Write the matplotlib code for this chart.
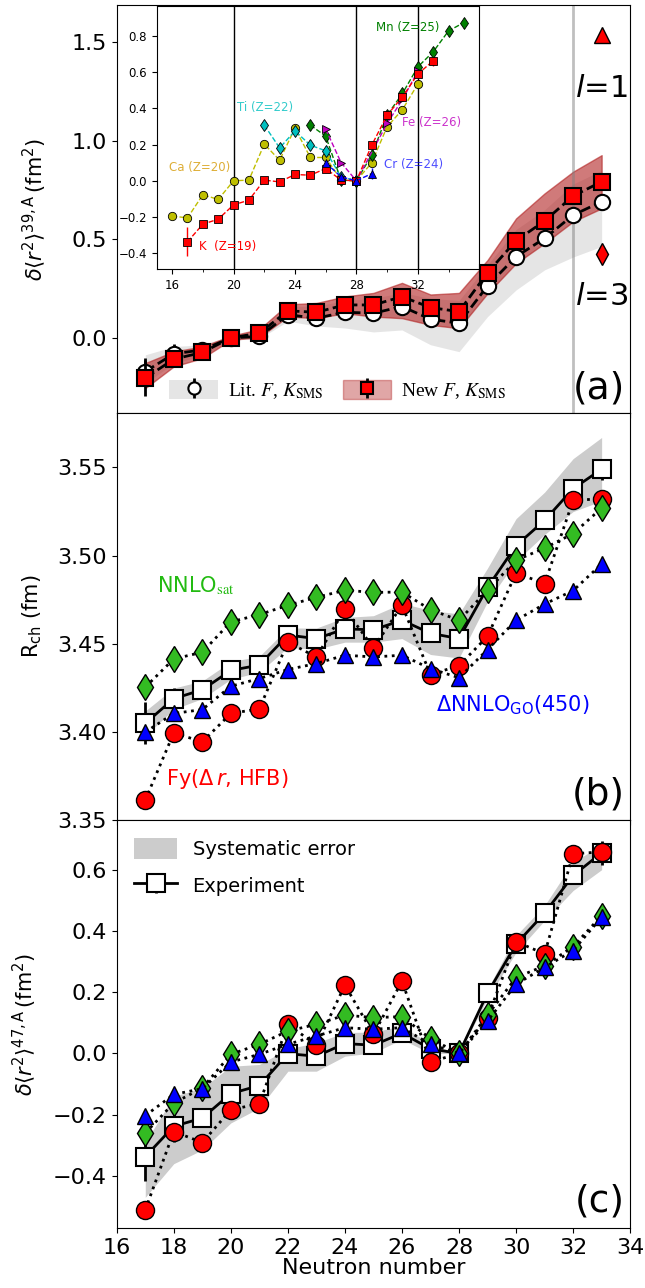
import numpy as np
import matplotlib.pyplot as plt
from matplotlib.patches import Patch
from matplotlib.font_manager import FontProperties

N = np.arange(17, 34)

# ---- panel (a): delta r^2 relative to 39K
lit_a = [-0.171, -0.081, -0.061, 0.0, 0.007, 0.117, 0.100, 0.130, 0.125, 0.159,
         0.095, 0.074, 0.264, 0.412, 0.505, 0.623, 0.691]
lit_a_err = [0.07, 0.05, 0.02, 0.0, 0.01, 0.01, 0.01, 0.01, 0.01, 0.01,
             0.01, 0.01, 0.01, 0.01, 0.01, 0.01, 0.01]
lit_a_lo = [-0.23, -0.13, -0.09, -0.01, -0.005, 0.085, 0.06, 0.05, 0.03, 0.04,
            -0.035, -0.07, 0.108, 0.243, 0.345, 0.41, 0.464]
lit_a_hi = [-0.086, -0.044, -0.035, 0.01, 0.03, 0.16, 0.16, 0.19, 0.2, 0.23,
            0.2, 0.19, 0.37, 0.55, 0.65, 0.78, 0.85]
new_a = [-0.204, -0.108, -0.074, 0.0, 0.024, 0.137, 0.130, 0.167, 0.167, 0.209,
         0.154, 0.133, 0.331, 0.493, 0.593, 0.720, 0.792]
new_a_err = [0.09, 0.04, 0.02, 0.0, 0.01, 0.01, 0.01, 0.01, 0.01, 0.01,
             0.01, 0.01, 0.01, 0.01, 0.01, 0.01, 0.01]
new_a_lo = [-0.255, -0.145, -0.103, -0.01, 0.003, 0.108, 0.10, 0.125, 0.108, 0.10,
            0.066, 0.049, 0.226, 0.378, 0.48, 0.59, 0.657]
new_a_hi = [-0.128, -0.069, -0.044, 0.01, 0.044, 0.17, 0.177, 0.21, 0.228, 0.279,
            0.22, 0.228, 0.395, 0.606, 0.733, 0.843, 0.927]
l1_val, l3_val = 1.536, 0.426

# ---- inset: other isotopic chains relative to N=28
K_N = np.arange(17, 34)
K_r2 = [-0.337, -0.24, -0.212, -0.133, -0.107, 0.004, -0.006, 0.035, 0.031, 0.068,
        0.004, 0.0, 0.197, 0.363, 0.464, 0.59, 0.664]
K_err = [0.08, 0.01, 0.01, 0.01, 0.01, 0.01, 0.01, 0.01, 0.01, 0.01,
         0.01, 0.0, 0.01, 0.01, 0.01, 0.01, 0.03]
Ca_N = np.arange(16, 33)
Ca_r2 = [-0.195, -0.205, -0.077, -0.103, 0.0, 0.004, 0.203, 0.114, 0.291, 0.129,
         0.129, 0.005, 0.0, 0.1, 0.299, 0.394, 0.535]
Ti_N = np.arange(22, 29)
Ti_r2 = [0.308, 0.182, 0.276, 0.197, 0.166, 0.022, 0.0]
Cr_N = np.arange(26, 30)
Cr_r2 = [0.1, 0.022, 0.0, 0.04]
Mn_N = np.arange(25, 36)
Mn_r2 = [0.308, 0.247, 0.004, 0.0, 0.142, 0.363, 0.483, 0.63, 0.713, 0.829, 0.875]
Fe_N = [26, 27, 28, 30, 31, 32]
Fe_r2 = [0.286, 0.101, 0.0, 0.317, 0.45, 0.606]

# ---- panel (b): charge radii
exp_b = [3.405, 3.419, 3.424, 3.435, 3.438, 3.455, 3.453, 3.4585, 3.458, 3.4634,
         3.456, 3.453, 3.482, 3.5057, 3.520, 3.538, 3.549]
exp_b_err = [0.012, 0.006, 0.002, 0.002, 0.002, 0.002, 0.002, 0.002, 0.002, 0.002,
             0.002, 0.002, 0.002, 0.002, 0.002, 0.002, 0.006]
sys_b_lo = [3.398, 3.413, 3.419, 3.430, 3.434, 3.448, 3.447, 3.451, 3.451, 3.453,
            3.444, 3.442, 3.474, 3.497, 3.512, 3.525, 3.531]
sys_b_hi = [3.412, 3.425, 3.429, 3.440, 3.443, 3.459, 3.459, 3.465, 3.466, 3.473,
            3.469, 3.467, 3.493, 3.521, 3.536, 3.555, 3.567]
fy_b = [3.3615, 3.3996, 3.3945, 3.4106, 3.4132, 3.4511, 3.4425, 3.4698, 3.4477, 3.4719,
        3.4326, 3.4377, 3.4543, 3.4902, 3.4842, 3.5313, 3.5323]
sat_b = [3.4255, 3.4415, 3.4453, 3.4625, 3.4666, 3.4719, 3.4764, 3.4804, 3.4792, 3.4794,
         3.4694, 3.4634, 3.4804, 3.4974, 3.5043, 3.5125, 3.527]
go_b = [3.400, 3.4106, 3.4128, 3.426, 3.4304, 3.4355, 3.4389, 3.4436, 3.4426, 3.4436,
        3.436, 3.4308, 3.4468, 3.4634, 3.4726, 3.4802, 3.4953]

# ---- panel (c): delta r^2 relative to 47K
exp_c = [-0.337, -0.238, -0.211, -0.131, -0.105, -0.001, -0.009, 0.032, 0.027, 0.066,
         0.015, 0.0, 0.197, 0.357, 0.458, 0.581, 0.655]
exp_c_err = [0.08, 0.05, 0.02, 0.01, 0.01, 0.01, 0.01, 0.01, 0.01, 0.01,
             0.01, 0.0, 0.01, 0.01, 0.01, 0.01, 0.04]
sys_c_lo = [-0.47, -0.36, -0.315, -0.227, -0.178, -0.058, -0.058, -0.009, 0.002, 0.046,
            0.0, 0.0, 0.18, 0.33, 0.434, 0.532, 0.60]
sys_c_hi = [-0.29, -0.14, -0.113, -0.042, -0.036, 0.015, 0.035, 0.068, 0.07, 0.09,
            0.03, 0.0, 0.21, 0.385, 0.483, 0.625, 0.68]
fy_c = [-0.511, -0.255, -0.291, -0.184, -0.164, 0.095, 0.027, 0.223, 0.062, 0.236,
        -0.028, 0.0, 0.117, 0.365, 0.325, 0.652, 0.658]
sat_c = [-0.26, -0.162, -0.113, -0.003, 0.03, 0.073, 0.095, 0.125, 0.117, 0.12,
         0.048, 0.0, 0.125, 0.248, 0.286, 0.349, 0.45]
go_c = [-0.203, -0.134, -0.115, -0.028, -0.003, 0.03, 0.057, 0.084, 0.079, 0.084,
        0.03, 0.0, 0.106, 0.226, 0.281, 0.336, 0.445]

fig, (ax1, ax2, ax3) = plt.subplots(3, 1, figsize=(6.45, 12.88), sharex=True)
fig.subplots_adjust(left=0.181, right=0.977, top=0.996, bottom=0.0466, hspace=0)

# ===================== (a)
ax1.fill_between(N, lit_a_lo, lit_a_hi, color='grey', alpha=0.2, lw=0)
ax1.fill_between(N, new_a_lo, new_a_hi, facecolor='firebrick', alpha=0.6,
                 edgecolor='firebrick', lw=1)
ax1.plot(N, lit_a, 'k--', lw=2, zorder=3)
ax1.plot(N, new_a, 'k--', lw=2, zorder=3)
eb_lit = ax1.errorbar(N, lit_a, yerr=lit_a_err, fmt='o', ms=11, mfc='white', mec='k',
                      mew=1.5, ecolor='k', elinewidth=2, zorder=4)
eb_new = ax1.errorbar(N, new_a, yerr=new_a_err, fmt='s', ms=11, mfc='red', mec='k',
                      mew=1.5, ecolor='k', elinewidth=2, zorder=5)
ax1.axvline(32, color='grey', alpha=0.5, lw=2)
ax1.errorbar([33], [l1_val], yerr=[0.02], fmt='^', ms=11, mfc='red', mec='k',
             ecolor='k', elinewidth=1.5)
ax1.plot([33], [l3_val], 'd', ms=11, mfc='red', mec='k')
ax1.text(33.0, 1.267, r'$l$=1', fontsize=22, ha='center', va='center')
ax1.text(33.0, 0.208, r'$l$=3', fontsize=22, ha='center', va='center')
ax1.text(0.99, 0.015, '(a)', transform=ax1.transAxes, fontsize=27,
         ha='right', va='bottom')
ax1.set_ylim(-0.38, 1.688)
ax1.set_yticks([0.0, 0.5, 1.0, 1.5])
ax1.set_ylabel(r'$\delta\langle r^2\rangle^{39,\mathrm{A}}\,(\mathrm{fm}^2)$',
               fontsize=15, labelpad=16)
leg_font = FontProperties(family='Liberation Serif', size=14, math_fontfamily='stix')
h_lit = (Patch(facecolor='grey', alpha=0.2, lw=0), eb_lit)
h_new = (Patch(facecolor='firebrick', alpha=0.4, edgecolor='firebrick'), eb_new)
ax1.legend([h_lit, h_new], [r'Lit. $F$, $K_{\rm SMS}$', r'New $F$, $K_{\rm SMS}$'],
           prop=leg_font, ncol=2, frameon=False, loc='center',
           bbox_to_anchor=(0.43, 0.055), handlelength=2.5, handleheight=1.1,
           columnspacing=1.0, handletextpad=0.5, markerscale=0.8)

# inset
axin = ax1.inset_axes([0.078, 0.353, 0.628, 0.645])
for v in [20, 28, 32]:
    axin.axvline(v, color='k', lw=1)
kw = dict(ls='--', lw=1, ms=6, mec='k', mew=0.6)
axin.errorbar(K_N, K_r2, yerr=K_err, marker='s', color='red', mfc='red',
              ecolor='red', elinewidth=1, **kw)
axin.plot(Ca_N, Ca_r2, marker='o', color='y', mfc='y', **kw)
axin.plot(Ti_N, Ti_r2, marker='d', color='c', mfc='c', **kw)
axin.errorbar(Cr_N, Cr_r2, yerr=[0.0, 0.0, 0.0, 0.03], marker='^', color='b',
              mfc='b', ecolor='b', elinewidth=1, **kw)
axin.plot(Mn_N, Mn_r2, marker='d', color='g', mfc='g', **kw)
axin.plot(Fe_N, Fe_r2, marker='>', color='m', mfc='m', **kw)
tkw = dict(fontsize=8.5, va='center', ha='left')
axin.text(29.3, 0.85, 'Mn (Z=25)', color='g', **tkw)
axin.text(20.2, 0.405, 'Ti (Z=22)', color='c', alpha=0.8, **tkw)
axin.text(15.8, 0.075, 'Ca (Z=20)', color='goldenrod', alpha=0.9, **tkw)
axin.text(31.0, 0.32, 'Fe (Z=26)', color='m', alpha=0.8, **tkw)
axin.text(29.8, 0.088, 'Cr (Z=24)', color='b', alpha=0.7, **tkw)
axin.text(17.75, -0.365, 'K  (Z=19)', color='red', **tkw)
axin.set_xlim(15, 36)
axin.set_ylim(-0.487, 0.967)
axin.set_xticks([16, 20, 24, 28, 32])
axin.set_xticks(np.arange(18, 36, 2), minor=True)
axin.set_yticks([-0.4, -0.2, 0.0, 0.2, 0.4, 0.6, 0.8])
axin.tick_params(labelsize=8.5)

# ===================== (b)
ax2.fill_between(N, sys_b_lo, sys_b_hi, color='grey', alpha=0.4, lw=0)
ax2.errorbar(N, exp_b, yerr=exp_b_err, fmt='s-', color='k', ms=13, mfc='white',
             mec='k', mew=1.5, lw=2, elinewidth=2, zorder=3)
ax2.plot(N, fy_b, 'o:', color='k', lw=2, ms=13, mfc='red', mec='k', zorder=4)
ax2.plot(N, sat_b, 'd:', color='k', lw=2, ms=13, mfc='#33bb22', mec='k', zorder=5)
ax2.plot(N, go_b, '^:', color='k', lw=2, ms=12, mfc='blue', mec='k', zorder=6)
ax2.text(17.4, 3.483, r'NNLO$_{\mathrm{sat}}$', color='#22bb11', fontsize=15,
         va='center', ha='left', math_fontfamily='stix')
ax2.text(27.2, 3.4155, r'$\Delta$NNLO$_{\rm GO}$(450)', color='blue', fontsize=15,
         va='center', ha='left')
ax2.text(17.74, 3.3737, r'Fy($\Delta\,r$, HFB)', color='red', fontsize=15,
         va='center', ha='left')
ax2.text(0.99, 0.02, '(b)', transform=ax2.transAxes, fontsize=27,
         ha='right', va='bottom')
ax2.set_ylim(3.35, 3.581)
ax2.set_yticks([3.35, 3.40, 3.45, 3.50, 3.55])
ax2.set_ylabel(r'R$_{\rm ch}$ (fm)', fontsize=15, labelpad=10)

# ===================== (c)
ax3.fill_between(N, sys_c_lo, sys_c_hi, color='grey', alpha=0.4, lw=0,
                 label='Systematic error')
ax3.errorbar(N, exp_c, yerr=exp_c_err, fmt='s-', color='k', ms=13, mfc='white',
             mec='k', mew=1.5, lw=2, elinewidth=2, zorder=3, label='Experiment')
ax3.plot(N, fy_c, 'o:', color='k', lw=2, ms=13, mfc='red', mec='k', zorder=4)
ax3.plot(N, sat_c, 'd:', color='k', lw=2, ms=13, mfc='#33bb22', mec='k', zorder=5)
ax3.plot(N, go_c, '^:', color='k', lw=2, ms=12, mfc='blue', mec='k', zorder=6)
ax3.text(0.99, 0.02, '(c)', transform=ax3.transAxes, fontsize=27,
         ha='right', va='bottom')
ax3.legend(loc='upper left', fontsize=14, frameon=False, handlelength=2.2,
           handleheight=1.3, labelspacing=0.8)
ax3.set_ylim(-0.57, 0.761)
ax3.set_yticks([-0.4, -0.2, 0.0, 0.2, 0.4, 0.6])
ax3.set_ylabel(r'$\delta\langle r^2\rangle^{47,\mathrm{A}}\,(\mathrm{fm}^2)$',
               fontsize=15, labelpad=10)
ax3.set_xlim(16, 34)
ax3.set_xticks(np.arange(16, 35, 2))
ax3.set_xlabel('Neutron number', fontsize=16, labelpad=0)

for ax in (ax1, ax2, ax3):
    ax.tick_params(labelsize=16)

fig.savefig('out.png', dpi=100)
